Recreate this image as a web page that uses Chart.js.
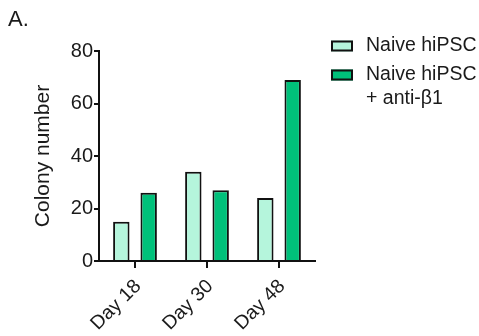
<!DOCTYPE html>
<html><head><meta charset="utf-8">
<script src="https://cdn.jsdelivr.net/npm/chart.js@4.4.1/dist/chart.umd.min.js"></script>
<style>html,body{margin:0;padding:0;background:#fff}#wrap{width:479px;height:336px;position:relative}</style>
</head><body><div id="wrap"><canvas id="c"></canvas></div>
<script>
const categories = ['Day 18', 'Day 30', 'Day 48'];
const naive = [15, 34, 24];
const naiveAnti = [26, 27, 69];
const seriesNames = [['Naive hiPSC'], ['Naive hiPSC', '+ anti-\u03B21']];
const yTicks = [0, 20, 40, 60, 80];
const panelLabel = 'A.';
const yTitle = 'Colony number';

const FONT = '"Liberation Sans", Arial, sans-serif';
const TXT = '#1a1a1a';

const legendPlugin = {
  id: 'customLegend',
  afterDraw(chart) {
    const ctx = chart.ctx;
    ctx.save();
    ctx.fillStyle = TXT;
    ctx.textBaseline = 'middle';
    ctx.textAlign = 'left';
    ctx.font = '22px ' + FONT;
    ctx.fillText(panelLabel, 8, 20);
    ctx.font = '19.5px ' + FONT;
    const starts = [46, 75];
    chart.data.datasets.forEach((ds, i) => {
      const y = starts[i];
      ctx.fillStyle = ds.backgroundColor;
      ctx.fillRect(331, y - 5.5, 22, 11);
      ctx.strokeStyle = '#111';
      ctx.lineWidth = 2;
      ctx.strokeRect(332, y - 4.5, 20, 9);
      ctx.fillStyle = TXT;
      seriesNames[i].forEach((t, j) => ctx.fillText(t, 366, y + j * 24));
    });
    ctx.restore();
  }
};

new Chart(document.getElementById('c'), {
  type: 'bar',
  data: {
    labels: categories,
    datasets: [
      { label: seriesNames[0].join(' '), data: naive, backgroundColor: '#b5f5dc', borderColor: '#111', borderWidth: 2, borderSkipped: 'bottom' },
      { label: seriesNames[1].join(' '), data: naiveAnti, backgroundColor: '#00c07a', borderColor: '#111', borderWidth: 2, borderSkipped: 'bottom' }
    ]
  },
  options: {
    responsive: true,
    maintainAspectRatio: false,
    animation: false,
    layout: { padding: { left: 0, top: 51, right: 164, bottom: 0 } },
    datasets: { bar: { categoryPercentage: 0.76, barPercentage: 0.6 } },
    plugins: { legend: { display: false }, tooltip: { enabled: false } },
    scales: {
      x: {
        grid: { display: true, drawOnChartArea: false, offset: false, color: '#111', lineWidth: 2, tickLength: 7 },
        border: { display: true, color: '#111', width: 2 },
        ticks: { color: TXT, font: { family: FONT, size: 19.5 }, maxRotation: 45, minRotation: 45, padding: 7, labelOffset: 3 },
        afterFit(s) { s.height = 75; }
      },
      y: {
        min: 0, max: 80,
        afterBuildTicks(s) { s.ticks = yTicks.map(v => ({ value: v })); },
        grid: { display: true, drawOnChartArea: false, color: '#111', lineWidth: 2, tickLength: 5 },
        border: { display: true, color: '#111', width: 2 },
        ticks: { color: TXT, font: { family: FONT, size: 20 }, padding: 1 },
        title: { display: true, text: yTitle, color: TXT, font: { family: FONT, size: 21 }, padding: { top: 31, bottom: 0 } },
        afterFit(s) { s.width = 99; }
      }
    }
  },
  plugins: [legendPlugin]
});
</script></body></html>
